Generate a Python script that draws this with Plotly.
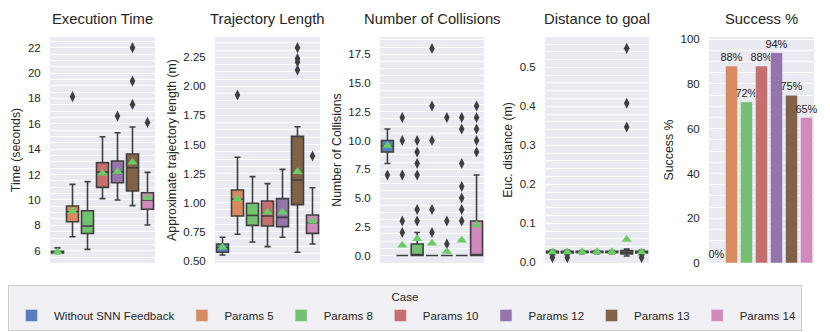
import colorsys
import plotly.graph_objects as go

cases = ['Without SNN Feedback', 'Params 5', 'Params 8', 'Params 10',
         'Params 12', 'Params 13', 'Params 14']

# Execution time (seconds)
time_lo = [5.78, 7.10, 6.10, 10.10, 9.99, 9.55, 8.02]
time_q1 = [5.83, 8.28, 7.36, 10.99, 11.36, 10.70, 9.26]
time_med = [5.88, 9.07, 7.94, 12.20, 12.20, 12.54, 9.99]
time_q3 = [5.96, 9.52, 9.15, 12.94, 13.07, 13.62, 10.57]
time_hi = [6.22, 11.23, 11.44, 14.98, 15.30, 15.75, 12.17]
time_mean = [5.90, 9.10, 8.50, 12.10, 12.25, 12.96, 10.18]
time_out_case = ['Params 5', 'Params 12', 'Params 13', 'Params 13', 'Params 13', 'Params 14']
time_out_val = [18.14, 16.61, 22.0, 19.37, 17.53, 16.11]

# Trajectory length (m)
traj_lo = [0.549, 0.727, 0.661, 0.621, 0.701, 0.572, 0.644]
traj_q1 = [0.572, 0.885, 0.804, 0.798, 0.793, 0.982, 0.735]
traj_med = [0.610, 1.028, 0.890, 0.885, 0.873, 1.194, 0.827]
traj_q3 = [0.644, 1.108, 0.994, 1.014, 1.034, 1.570, 0.893]
traj_hi = [0.701, 1.390, 1.223, 1.163, 1.286, 1.653, 1.128]
traj_mean = [0.615, 1.034, 0.919, 0.916, 0.916, 1.266, 0.839]
traj_out_case = ['Params 5', 'Params 13', 'Params 13', 'Params 13', 'Params 13', 'Params 14']
traj_out_val = [1.926, 2.333, 2.24, 2.21, 2.141, 1.401]

# Number of collisions
coll_lo = [8, 0, 0, 0, 0, 0, 0]
coll_q1 = [9, 0, 0, 0, 0, 0, 0]
coll_med = [9.5, 0, 0, 0, 0, 0, 0]
coll_q3 = [10, 0, 1, 0, 0, 0, 3]
coll_hi = [11, 0, 2, 0, 0, 0, 7]
coll_mean = [9.57, 0.9, 1.45, 1.07, 0.35, 1.33, 2.66]
coll_out_case = (['Without SNN Feedback'] + ['Params 5'] * 5 + ['Params 8'] * 6 +
                 ['Params 10'] * 5 + ['Params 12'] * 3 + ['Params 13'] * 7 + ['Params 14'] * 5)
coll_out_val = [7,
                12, 10, 7, 3, 2,
                10, 9, 8, 7, 4, 3,
                18, 13, 10, 4, 2,
                12, 3, 1,
                12, 11, 8, 6, 5, 4, 3,
                13, 12, 11, 10, 9]

# Distance to goal (m)
dist_lo = [0.019, 0.019, 0.022, 0.022, 0.022, 0.016, 0.019]
dist_q1 = [0.024, 0.024, 0.025, 0.025, 0.025, 0.021, 0.024]
dist_med = [0.026, 0.026, 0.027, 0.027, 0.027, 0.025, 0.026]
dist_q3 = [0.028, 0.028, 0.028, 0.028, 0.028, 0.030, 0.028]
dist_hi = [0.031, 0.031, 0.030, 0.030, 0.030, 0.034, 0.031]
dist_mean = [0.026, 0.026, 0.027, 0.027, 0.027, 0.058, 0.026]
dist_out_case = ['Without SNN Feedback', 'Params 5', 'Params 13', 'Params 13', 'Params 13', 'Params 14']
dist_out_val = [0.012, 0.012, 0.549, 0.408, 0.347, 0.012]

# Success %
success = [0, 88, 72, 88, 94, 75, 65]

muted = ['#4878D0', '#EE854A', '#6ACC64', '#D65F5F', '#956CB4', '#8C613C', '#DC7EC0']


def desat(hex_color, prop=0.75):
    r, g, b = (int(hex_color[i:i + 2], 16) / 255 for i in (1, 3, 5))
    h, l, s = colorsys.rgb_to_hls(r, g, b)
    r, g, b = colorsys.hls_to_rgb(h, l, s * prop)
    return 'rgb(%d,%d,%d)' % (round(r * 255), round(g * 255), round(b * 255))


colors = [desat(c) for c in muted]
dark = '#3f3f3f'
txt = '#262626'
font = 'Liberation Sans, Arial, sans-serif'

box_panels = [
    (time_lo, time_q1, time_med, time_q3, time_hi, time_mean, time_out_case, time_out_val),
    (traj_lo, traj_q1, traj_med, traj_q3, traj_hi, traj_mean, traj_out_case, traj_out_val),
    (coll_lo, coll_q1, coll_med, coll_q3, coll_hi, coll_mean, coll_out_case, coll_out_val),
    (dist_lo, dist_q1, dist_med, dist_q3, dist_hi, dist_mean, dist_out_case, dist_out_val),
]

fig = go.Figure()

for k, (lo, q1, med, q3, hi, mean, oc, ov) in enumerate(box_panels, start=1):
    xa, ya = 'x%d' % k, 'y%d' % k
    for j, case in enumerate(cases):
        fig.add_trace(go.Box(
            x=[case], q1=[q1[j]], median=[med[j]], q3=[q3[j]],
            lowerfence=[lo[j]], upperfence=[hi[j]],
            fillcolor=colors[j], line=dict(color=dark, width=1.6),
            width=0.8, whiskerwidth=0.5, boxpoints=False,
            showlegend=False, hoverinfo='skip', xaxis=xa, yaxis=ya))
    fig.add_trace(go.Scatter(
        x=oc, y=ov, mode='markers',
        marker=dict(symbol='diamond-tall', size=8, color=dark),
        showlegend=False, hoverinfo='skip', xaxis=xa, yaxis=ya))
    fig.add_trace(go.Scatter(
        x=cases, y=mean, mode='markers',
        marker=dict(symbol='triangle-up', size=9, color='#6ACC64'),
        showlegend=False, hoverinfo='skip', xaxis=xa, yaxis=ya))

for j, case in enumerate(cases):
    fig.add_trace(go.Bar(
        x=[case], y=[success[j]], name=case, marker_color=colors[j],
        width=0.8, text=['%d%%' % success[j]], textposition='outside',
        textfont=dict(size=11, color=txt), constraintext='none', cliponaxis=False,
        hoverinfo='skip', xaxis='x5', yaxis='y5'))

# page pixel positions; the page body adds an 8px offset
OFF = 8
domains = [(50, 155), (215, 320), (380, 484), (545, 649), (709, 814)]
titles = ['Execution Time', 'Trajectory Length', 'Number of Collisions',
          'Distance to goal', 'Success %']
ytitles = ['Time (seconds)', 'Approximate trajectory length (m)', 'Number of Collisions',
           'Euc. distance (m)', 'Success %']
yranges = [[5.03, 22.84], [0.48, 2.425], [-0.65, 19.0], [-0.002, 0.578], [0, 101]]
dticks = [2, 0.25, 2.5, 0.1, 20]
minor_dticks = [0.5, 0.0625, 0.625, 0.02, 5]
tick0s = [0, 0, 0, 0, 0]
formats = ['d', '.2f', '.1f', '.1f', 'd']

W, H = 830 - OFF, 332 - OFF
ydom = [1 - (263 - OFF) / H, 1 - (37 - OFF) / H]

layout = dict(
    width=W, height=H,
    margin=dict(l=0, r=0, t=0, b=0, autoexpand=False),
    paper_bgcolor='white', plot_bgcolor='#EAEAF2',
    font=dict(family=font, color=txt, size=11.5),
    barmode='overlay', boxmode='overlay',
    annotations=[],
    legend=dict(
        orientation='h', x=0, xanchor='left', y=1 - (285 - OFF) / H, yanchor='top',
        title=dict(text='Case', side='top center', font=dict(size=11.5)),
        bgcolor='#F0F0F5', bordercolor='#CCCCCC', borderwidth=1,
        font=dict(size=11.5), itemwidth=35),
)

for k in range(1, 6):
    x0, x1 = domains[k - 1]
    layout['xaxis%d' % k] = dict(
        domain=[(x0 - OFF) / W, (x1 - OFF) / W], anchor='y%d' % k, range=[-0.5, 6.5],
        categoryorder='array', categoryarray=cases,
        showticklabels=False, showgrid=False, zeroline=False, showline=False)
    layout['yaxis%d' % k] = dict(
        domain=ydom, anchor='x%d' % k, range=yranges[k - 1],
        tick0=tick0s[k - 1], dtick=dticks[k - 1], tickformat=formats[k - 1],
        gridcolor='white', gridwidth=1.3, zeroline=False, showline=False,
        ticks='outside', ticklen=6, tickcolor='rgba(0,0,0,0)',
        tickfont=dict(size=11.5),
        minor=dict(dtick=minor_dticks[k - 1], tick0=tick0s[k - 1], showgrid=True,
                   gridcolor='white', gridwidth=0.6),
        title=dict(text=ytitles[k - 1], standoff=4, font=dict(size=12.3)))
    layout['annotations'].append(dict(
        text=titles[k - 1], x=((x0 + x1) / 2 - OFF) / W, y=1 - (19 - OFF) / H,
        xref='paper', yref='paper', showarrow=False,
        font=dict(size=14.8, color=txt), xanchor='center', yanchor='middle'))

fig.update_layout(**layout)
fig.write_html('out.html')
